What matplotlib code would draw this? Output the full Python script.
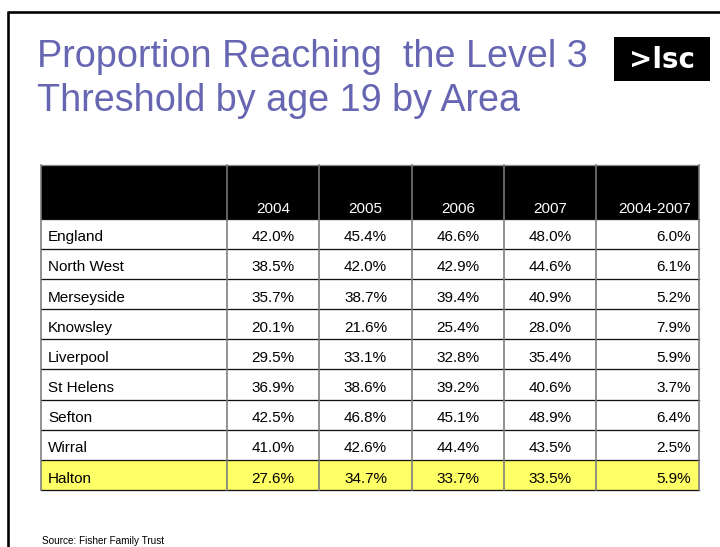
import matplotlib
matplotlib.use("Agg")
import matplotlib.pyplot as plt
from matplotlib.patches import Rectangle

# ---- data ----
areas = ["England", "North West", "Merseyside", "Knowsley", "Liverpool",
         "St Helens", "Sefton", "Wirral", "Halton"]
col_labels = ["2004", "2005", "2006", "2007", "2004-2007"]
y2004 = [42.0, 38.5, 35.7, 20.1, 29.5, 36.9, 42.5, 41.0, 27.6]
y2005 = [45.4, 42.0, 38.7, 21.6, 33.1, 38.6, 46.8, 42.6, 34.7]
y2006 = [46.6, 42.9, 39.4, 25.4, 32.8, 39.2, 45.1, 44.4, 33.7]
y2007 = [48.0, 44.6, 40.9, 28.0, 35.4, 40.6, 48.9, 43.5, 33.5]
change = [6.0, 6.1, 5.2, 7.9, 5.9, 3.7, 6.4, 2.5, 5.9]
highlight = "Halton"

title_lines = ["Proportion Reaching  the Level 3", "Threshold by age 19 by Area"]
source = "Source: Fisher Family Trust"

# ---- layout (pixels) ----
W, H = 720, 547
fig = plt.figure(figsize=(W / 100, H / 100), dpi=100)
ax = fig.add_axes([0, 0, 1, 1])
ax.set_xlim(0, W)
ax.set_ylim(H, 0)
ax.axis("off")

FONT = "Liberation Sans"
px = 0.72  # 1 px in points

# slide frame
ax.plot([8, W], [12, 12], color="black", lw=2.6 * px, solid_capstyle="butt")
ax.plot([8, 8], [11, H], color="black", lw=2.6 * px, solid_capstyle="butt")

# title
title_color = "#6666b3"
ax.text(37, 67, title_lines[0], fontsize=27.2, family=FONT, color=title_color,
        va="baseline", ha="left")
ax.text(37, 111, title_lines[1], fontsize=27.2, family=FONT, color=title_color,
        va="baseline", ha="left")

# logo
ax.add_patch(Rectangle((614, 37), 96, 44, facecolor="black", edgecolor="none"))
ax.text(662, 60, ">lsc", fontsize=20, family="DejaVu Sans", weight="bold",
        color="white", ha="center", va="center")

# table geometry
col_x = [41, 227, 319, 412, 504, 596, 699]
top = 165
head_bot = 218.5
row_h = 30.17
n = len(areas)
bottom = head_bot + n * row_h

# header background
ax.add_patch(Rectangle((col_x[0], top), col_x[-1] - col_x[0], head_bot - top,
                       facecolor="black", edgecolor="none", zorder=1))
# highlight row
for i, a in enumerate(areas):
    if a == highlight:
        ax.add_patch(Rectangle((col_x[0], head_bot + i * row_h), col_x[-1] - col_x[0], row_h,
                               facecolor="#ffff66", edgecolor="none", zorder=1))

# horizontal lines
for i in range(n + 1):
    yy = head_bot + i * row_h
    ax.plot([col_x[0], col_x[-1]], [yy, yy], color="#111111", lw=1.3 * px, zorder=3)
ax.plot([col_x[0], col_x[-1]], [top, top], color="#888888", lw=1.3 * px, zorder=3)
# vertical lines
for xx in col_x:
    ax.plot([xx, xx], [top, bottom], color="#7a7a7a", lw=1.6 * px, zorder=3)

# header text
fs = 11
for j, lab in enumerate(col_labels):
    if j < 4:
        ax.text((col_x[j + 1] + col_x[j + 2]) / 2, head_bot - 5.5, lab, fontsize=fs,
                family=FONT, color="white", ha="center", va="baseline", zorder=4)
    else:
        ax.text(col_x[-1] - 8, head_bot - 5.5, lab, fontsize=fs,
                family=FONT, color="white", ha="right", va="baseline", zorder=4)

# body text
series = [y2004, y2005, y2006, y2007]
for i, a in enumerate(areas):
    base = head_bot + (i + 1) * row_h - 7.5
    ax.text(col_x[0] + 7, base, a, fontsize=fs, family=FONT, color="black",
            ha="left", va="baseline", zorder=4)
    for j, s in enumerate(series):
        ax.text((col_x[j + 1] + col_x[j + 2]) / 2, base, f"{s[i]:.1f}%", fontsize=fs,
                family=FONT, color="black", ha="center", va="baseline", zorder=4)
    ax.text(col_x[-1] - 8, base, f"{change[i]:.1f}%", fontsize=fs, family=FONT,
            color="black", ha="right", va="baseline", zorder=4)

# source
ax.text(42, 544.5, source, fontsize=7.2, family=FONT, color="black",
        ha="left", va="baseline")

fig.savefig("out.png", dpi=100)
